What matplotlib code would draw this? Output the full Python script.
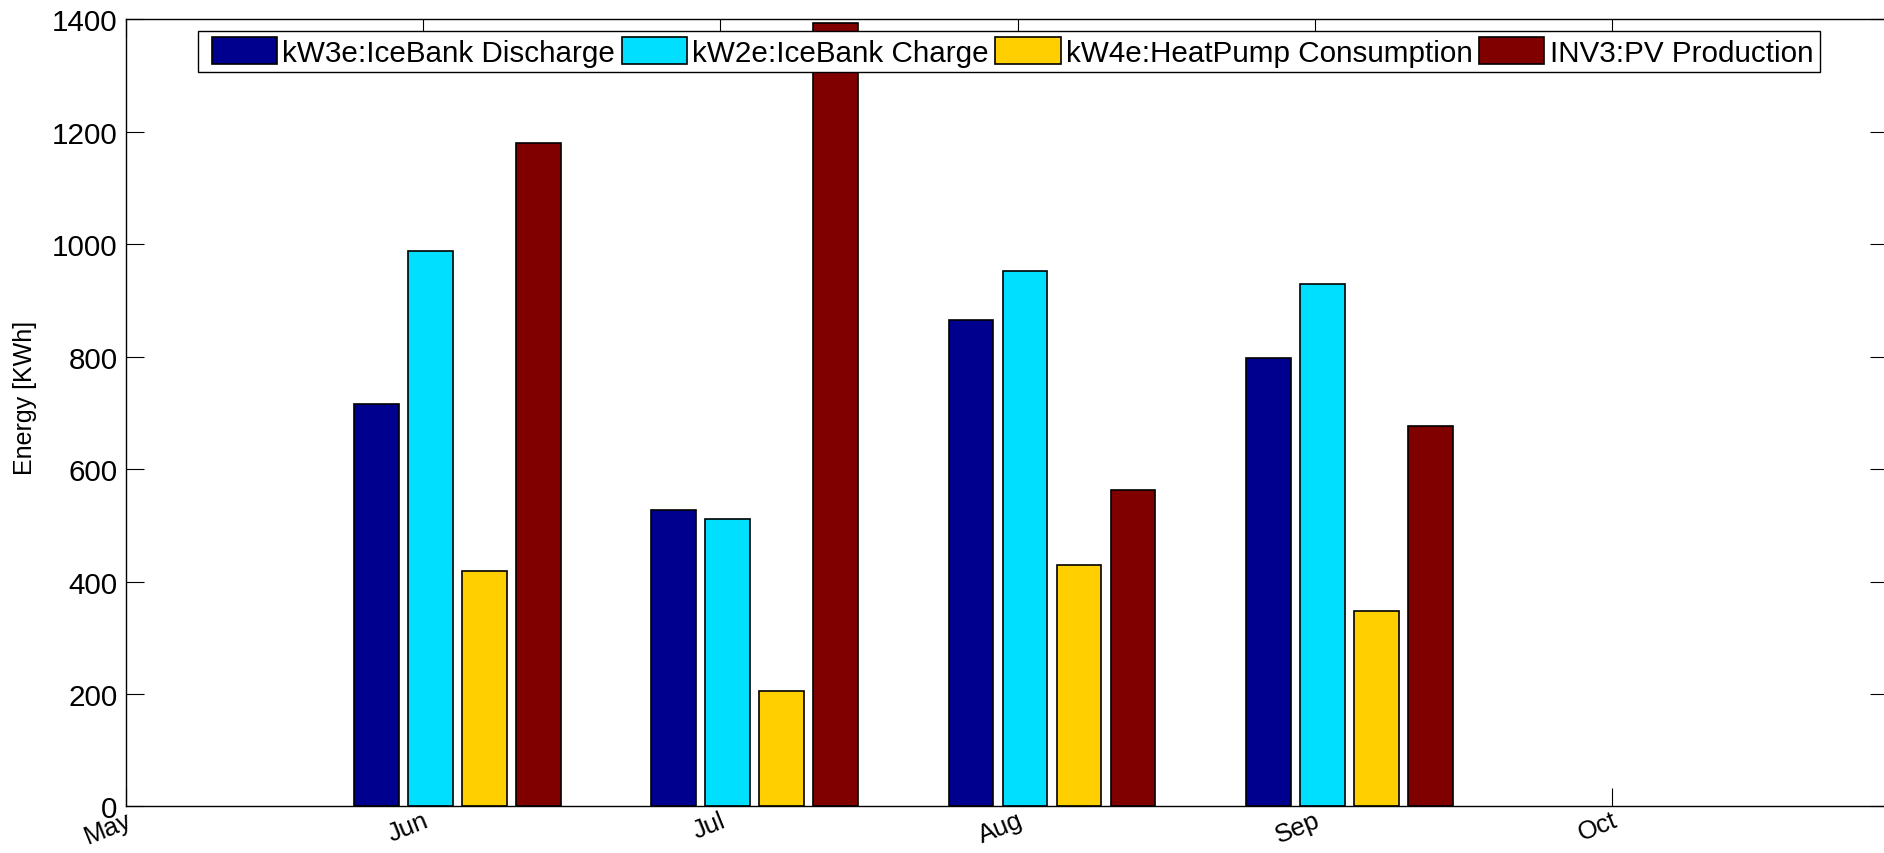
import numpy as np
import matplotlib
matplotlib.use("Agg")
import matplotlib.pyplot as plt
from matplotlib.patches import Rectangle

# Monthly energy totals [kWh]
month_labels = ["May", "Jun", "Jul", "Aug", "Sep", "Oct"]
data_months = ["Jun", "Jul", "Aug", "Sep"]
icebank_discharge = [716, 527, 865, 797]
icebank_charge = [988, 511, 952, 930]
heatpump_consumption = [418, 205, 429, 348]
pv_production = [1180, 1393, 563, 677]

series = [
    ("kW3e:IceBank Discharge", icebank_discharge, "#00008F"),
    ("kW2e:IceBank Charge", icebank_charge, "#00DFFF"),
    ("kW4e:HeatPump Consumption", heatpump_consumption, "#FFCF00"),
    ("INV3:PV Production", pv_production, "#800000"),
]

plt.rcParams["font.family"] = ["Liberation Sans", "DejaVu Sans"]

W, H = 1884, 854
fig = plt.figure(figsize=(W / 100, H / 100), dpi=100)
ax = fig.add_axes([0.06688, 0.05457, 0.9352, 0.92155])

# group layout (in month units)
group_shift = 0.116
bar_step = 0.1817
bar_width = 0.151

x_base = np.array([month_labels.index(m) for m in data_months], dtype=float)
for k, (name, vals, color) in enumerate(series):
    xs = x_base + group_shift + (k - 1.5) * bar_step
    ax.bar(xs, vals, width=bar_width, color=color, edgecolor="black",
           linewidth=1.2, label=name, zorder=2)

ax.set_xlim(0, 5.929)
ax.set_ylim(0, 1400)
ax.set_axisbelow(True)

ax.set_xticks(range(len(month_labels)))
ax.set_xticklabels(month_labels, rotation=22, ha="right", va="top",
                   rotation_mode="anchor", fontsize=18.5)
ax.set_yticks(np.arange(0, 1401, 200))
ax.tick_params(axis="y", labelsize=21.3, pad=6)
ax.tick_params(axis="x", pad=1)
ax.tick_params(direction="in", length=12.8, width=0.8, top=True, right=True)

for sp in ax.spines.values():
    sp.set_linewidth(1.0)

ax.set_ylabel("Energy [KWh]", fontsize=18)
ax.yaxis.set_label_coords(-0.0505, 0.52)

# legend box drawn separately so its padding can be set per side
box = Rectangle((198 / W, 1 - 73.3 / H), (1820 - 198) / W, (73.3 - 32.4) / H,
                transform=fig.transFigure, facecolor="white", edgecolor="black",
                linewidth=1.0, zorder=4, clip_on=False)
ax.add_patch(box)

leg = ax.legend(loc="center left", bbox_to_anchor=(211.5 / W, 1 - 52.9 / H),
                bbox_transform=fig.transFigure, ncol=4, fontsize=21.3,
                frameon=False, borderaxespad=0, borderpad=0, handlelength=2.2,
                handleheight=1.0, handletextpad=0.17, columnspacing=0.24)
leg.set_zorder(5)

fig.savefig("out.png", dpi=100)
